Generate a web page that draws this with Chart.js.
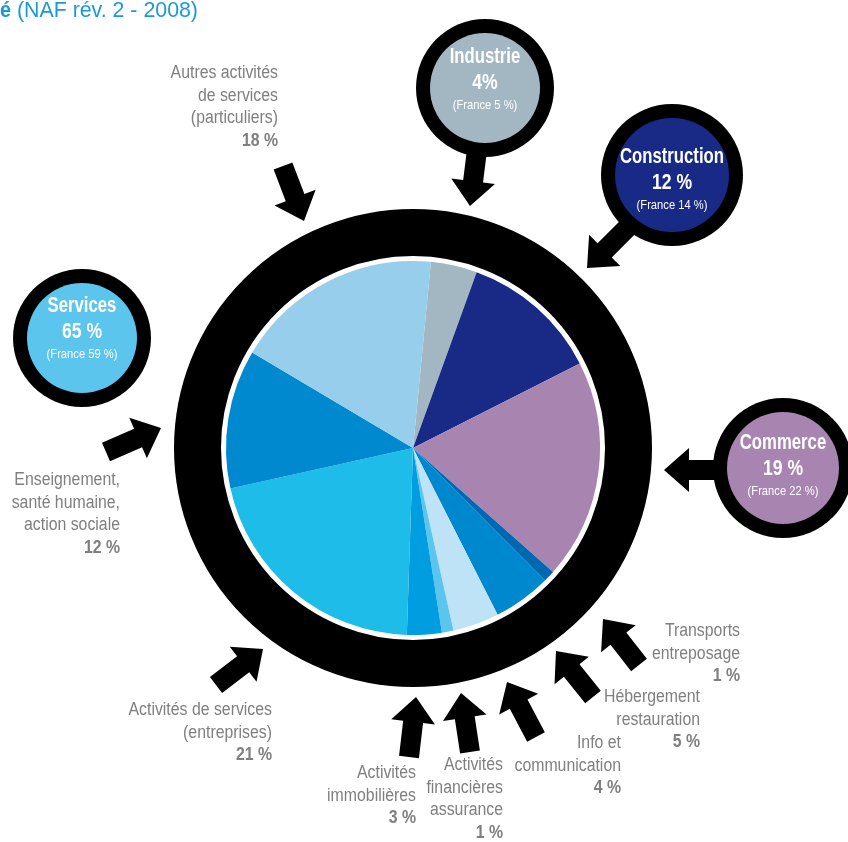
<!DOCTYPE html>
<html>
<head>
<meta charset="utf-8">
<script src="https://cdn.jsdelivr.net/npm/chart.js@4"></script>
<style>
  html, body { margin: 0; padding: 0; background: #fff; }
  canvas { display: block; }
</style>
</head>
<body>
<canvas id="chart" width="848" height="842"></canvas>
<script>
// Data: detailed split of establishments by activity (NAF rév. 2 - 2008)
const categories = [
  'Industrie', 'Construction', 'Commerce', 'Transports entreposage',
  'Hébergement restauration', 'Info et communication',
  'Activités financières assurance', 'Activités immobilières',
  'Activités de services (entreprises)',
  'Enseignement, santé humaine, action sociale',
  'Autres activités de services (particuliers)'
];
const shares = [4, 12, 19, 1, 5, 4, 1, 3, 21, 12, 18];
const sliceColors = [
  '#a3b7c3', '#182a86', '#a884b1', '#0068b0', '#0088cf', '#bee3f6',
  '#5bc5ee', '#009ee0', '#1ebce9', '#0089cf', '#96ceec'
];

// label text for the outside labels (null = shown in a bubble)
const labelLines = [
  null, null, null,
  ['Transports', 'entreposage'],
  ['Hébergement', 'restauration'],
  ['Info et', 'communication'],
  ['Activités', 'financières', 'assurance'],
  ['Activités', 'immobilières'],
  ['Activités de services', '(entreprises)'],
  ['Enseignement,', 'santé humaine,', 'action sociale'],
  ['Autres activités', 'de services', '(particuliers)']
];

// big sectors (bubbles)
const sectors = ['Industrie', 'Construction', 'Commerce', 'Services'];
const sectorShares = [4, 12, 19, 65];
const franceShares = [5, 14, 22, 59];
const sectorColors = ['#a3b7c3', '#182a86', '#a884b1', '#5bc5ee'];

// --- layout (pixels) ---
// label anchor: right edge x, first line y
const labelPos = {
  3: [740, 631], 4: [700, 697], 5: [621, 743], 6: [503, 765],
  7: [416, 773], 8: [272, 710], 9: [120, 480], 10: [278, 73]
};
// arrows: [tailX, tailY, tipX, tipY]
const labelArrows = {
  3: [639, 665, 603, 619], 4: [593, 697, 556, 651], 5: [536, 737, 507, 682],
  6: [470, 752, 461, 693], 7: [409, 757, 416, 697], 8: [216, 685, 263, 649],
  9: [106, 452, 161, 428], 10: [283, 166, 304, 221]
};
// bubbles: cx, cy, r, text centre y, arrow
const bubbleLayout = [
  { cx: 485, cy: 88, r: 69, ty: 83, arrow: [477, 150, 470, 206] },
  { cx: 672, cy: 175, r: 71, ty: 183, arrow: [630, 225, 587, 268] },
  { cx: 783, cy: 468, r: 70, ty: 469, arrow: [715, 470, 664, 470] },
  { cx: 82, cy: 338, r: 69, ty: 332, arrow: null }
];

const FONT = '"Liberation Sans", Arial, sans-serif';
const GREY = '#7f7f7f';

// condensed text: draw with a horizontal squeeze
function squeezeText(ctx, text, x, y, sx) {
  ctx.save();
  ctx.translate(x, y);
  ctx.scale(sx, 1);
  ctx.fillText(text, 0, 0);
  ctx.restore();
}

function drawArrow(ctx, a) {
  const [x1, y1, x2, y2] = a;
  const len = Math.hypot(x2 - x1, y2 - y1);
  const ux = (x2 - x1) / len, uy = (y2 - y1) / len;
  const nx = -uy, ny = ux;
  const stem = 10, head = 22, hl = 25;
  const bx = x2 - ux * hl, by = y2 - uy * hl;
  ctx.beginPath();
  ctx.moveTo(x1 + nx * stem, y1 + ny * stem);
  ctx.lineTo(bx + nx * stem, by + ny * stem);
  ctx.lineTo(bx + nx * head, by + ny * head);
  ctx.lineTo(x2, y2);
  ctx.lineTo(bx - nx * head, by - ny * head);
  ctx.lineTo(bx - nx * stem, by - ny * stem);
  ctx.lineTo(x1 - nx * stem, y1 - ny * stem);
  ctx.closePath();
  ctx.fillStyle = '#000';
  ctx.fill();
}

const decorPlugin = {
  id: 'decor',
  afterDatasetsDraw(chart) {
    const ctx = chart.ctx;
    const arc = chart.getDatasetMeta(0).data[0];
    const r = arc.outerRadius;
    // thick black ring around the pie
    ctx.save();
    ctx.beginPath();
    ctx.arc(arc.x, arc.y, r + 28.5, 0, Math.PI * 2);
    ctx.lineWidth = 47;
    ctx.strokeStyle = '#000';
    ctx.stroke();
    ctx.restore();
  },
  afterDraw(chart) {
    const ctx = chart.ctx;
    ctx.save();

    // title fragment (cut at the left edge)
    ctx.fillStyle = '#1a9ad6';
    ctx.textBaseline = 'middle';
    ctx.textAlign = 'right';
    ctx.font = 'bold 22px ' + FONT;
    squeezeText(ctx, 'activité', 11, 11, 0.9);
    ctx.textAlign = 'left';
    ctx.font = '22px ' + FONT;
    squeezeText(ctx, ' (NAF rév. 2 - 2008)', 11, 11, 0.97);

    // arrows
    Object.keys(labelArrows).forEach(k => drawArrow(ctx, labelArrows[k]));
    bubbleLayout.forEach(b => { if (b.arrow) drawArrow(ctx, b.arrow); });

    // outside labels
    ctx.textAlign = 'right';
    ctx.fillStyle = GREY;
    labelLines.forEach((lines, i) => {
      if (!lines) return;
      const [x, y] = labelPos[i];
      ctx.font = '18px ' + FONT;
      lines.forEach((t, j) => squeezeText(ctx, t, x, y + j * 22.7, 0.88));
      ctx.font = 'bold 18px ' + FONT;
      squeezeText(ctx, shares[i] + ' %', x, y + lines.length * 22.7, 0.88);
    });

    // bubbles
    ctx.textAlign = 'center';
    bubbleLayout.forEach((b, i) => {
      ctx.beginPath();
      ctx.arc(b.cx, b.cy, b.r, 0, Math.PI * 2);
      ctx.fillStyle = '#000';
      ctx.fill();
      ctx.beginPath();
      ctx.arc(b.cx, b.cy, b.r - 14, 0, Math.PI * 2);
      ctx.fillStyle = sectorColors[i];
      ctx.fill();
      ctx.fillStyle = '#fff';
      ctx.font = 'bold 22px ' + FONT;
      squeezeText(ctx, sectors[i], b.cx, b.ty - 26, 0.76);
      ctx.font = 'bold 22px ' + FONT;
      squeezeText(ctx, sectorShares[i] + (i === 0 ? '%' : ' %'), b.cx, b.ty, 0.8);
      ctx.font = '13px ' + FONT;
      squeezeText(ctx, '(France ' + franceShares[i] + ' %)', b.cx, b.ty + 22, 0.86);
    });
    ctx.restore();
  }
};

new Chart(document.getElementById('chart'), {
  type: 'pie',
  data: {
    labels: categories,
    datasets: [{
      data: shares,
      backgroundColor: sliceColors,
      borderWidth: 0,
      hoverOffset: 0
    }]
  },
  options: {
    responsive: false,
    animation: false,
    rotation: 5.5,
    layout: { padding: { left: 226, right: 248, top: 261, bottom: 207 } },
    plugins: { legend: { display: false }, tooltip: { enabled: false } },
    events: []
  },
  plugins: [decorPlugin]
});
</script>
</body>
</html>
